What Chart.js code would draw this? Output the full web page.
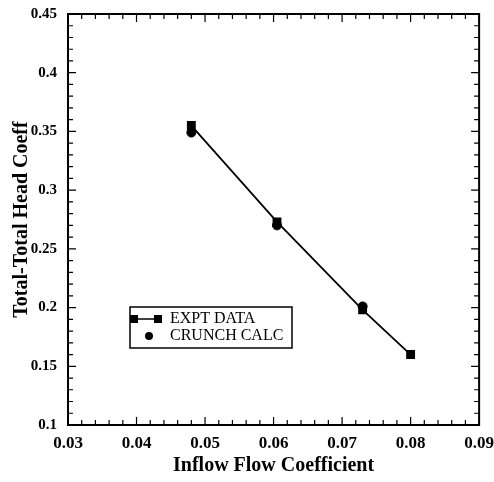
<!DOCTYPE html>
<html>
<head>
<meta charset="utf-8">
<script src="https://cdn.jsdelivr.net/npm/chart.js@4.4.0/dist/chart.umd.min.js"></script>
<style>
  html, body { margin: 0; padding: 0; background: #fff; }
  #wrap { width: 494px; height: 482px; }
</style>
</head>
<body>
<div id="wrap"><canvas id="headChart" width="494" height="482"></canvas></div>
<script>
// 실험 데이터 (EXPT DATA)
const exptFlow = [0.048, 0.0605, 0.073, 0.080];
const exptHead = [0.355, 0.273, 0.198, 0.160];

// 계산 결과 (CRUNCH CALC)
const calcFlow = [0.048, 0.0605, 0.073];
const calcHead = [0.349, 0.270, 0.201];

// 축 눈금
const xTicks = [0.03, 0.04, 0.05, 0.06, 0.07, 0.08, 0.09];
const yTicks = [0.1, 0.15, 0.2, 0.25, 0.3, 0.35, 0.4, 0.45];

const serif = '"Liberation Serif", "Times New Roman", serif';

function fmt(v) {
    return String(Number(v.toFixed(3)));
}

// 안쪽으로 향하는 눈금 + 네 면 테두리
const frameTicks = {
    id: 'frameTicks',
    afterDatasetsDraw(chart) {
        const { ctx, chartArea: a, scales: { x, y } } = chart;
        ctx.save();
        ctx.strokeStyle = '#000';
        ctx.lineWidth = 1.2;
        ctx.beginPath();
        // x 방향 눈금 (0.002 간격)
        for (let i = 0; i <= 30; i++) {
            const v = 0.03 + i * 0.002;
            const px = x.getPixelForValue(v);
            const len = i % 5 === 0 ? 8 : 5;
            ctx.moveTo(px, a.bottom); ctx.lineTo(px, a.bottom - len);
            ctx.moveTo(px, a.top); ctx.lineTo(px, a.top + len);
        }
        // y 방향 눈금 (0.01 간격)
        for (let i = 0; i <= 35; i++) {
            const v = 0.1 + i * 0.01;
            const py = y.getPixelForValue(v);
            const len = i % 5 === 0 ? 8 : 5;
            ctx.moveTo(a.left, py); ctx.lineTo(a.left + len, py);
            ctx.moveTo(a.right, py); ctx.lineTo(a.right - len, py);
        }
        ctx.stroke();
        ctx.lineWidth = 2;
        ctx.strokeRect(a.left, a.top, a.right - a.left, a.bottom - a.top);
        ctx.restore();
    }
};

// 그래프 안쪽 범례 상자
const boxLegend = {
    id: 'boxLegend',
    afterDraw(chart) {
        const { ctx, chartArea: a } = chart;
        const bx = a.left + 62, by = a.top + 293, bw = 162, bh = 41;
        ctx.save();
        ctx.fillStyle = '#fff';
        ctx.fillRect(bx, by, bw, bh);
        ctx.strokeStyle = '#000';
        ctx.lineWidth = 1.5;
        ctx.strokeRect(bx, by, bw, bh);

        ctx.fillStyle = '#000';
        ctx.font = '16px ' + serif;
        ctx.textBaseline = 'middle';
        const ds = chart.data.datasets;

        // EXPT DATA
        const y1 = by + 12;
        ctx.lineWidth = 1.5;
        ctx.beginPath(); ctx.moveTo(bx + 4, y1); ctx.lineTo(bx + 28, y1); ctx.stroke();
        ctx.fillRect(bx, y1 - 4, 8, 8);
        ctx.fillRect(bx + 24, y1 - 4, 8, 8);
        ctx.fillText(ds[0].label, bx + 40, y1);

        // CRUNCH CALC
        const y2 = by + 29;
        ctx.beginPath(); ctx.arc(bx + 19, y2, 4, 0, Math.PI * 2); ctx.fill();
        ctx.fillText(ds[1].label, bx + 40, y2);
        ctx.restore();
    }
};

const ctx = document.getElementById('headChart').getContext('2d');

new Chart(ctx, {
    type: 'scatter',
    data: {
        datasets: [
            {
                label: 'EXPT DATA',
                data: exptFlow.map((f, i) => ({ x: f, y: exptHead[i] })),
                showLine: true,
                borderColor: '#000',
                backgroundColor: '#000',
                borderWidth: 1.8,
                pointStyle: 'rect',
                pointRadius: 5,
                tension: 0
            },
            {
                label: 'CRUNCH CALC',
                data: calcFlow.map((f, i) => ({ x: f, y: calcHead[i] })),
                showLine: false,
                borderColor: '#000',
                backgroundColor: '#000',
                pointStyle: 'circle',
                pointRadius: 4.5
            }
        ]
    },
    options: {
        responsive: false,
        animation: false,
        layout: { padding: { top: 14, right: 13, left: 0, bottom: 0 } },
        plugins: {
            legend: { display: false },
            tooltip: { enabled: false }
        },
        scales: {
            x: {
                type: 'linear',
                min: 0.03,
                max: 0.09,
                afterBuildTicks: s => { s.ticks = xTicks.map(v => ({ value: v })); },
                afterFit: s => { s.height = 57; },
                grid: { display: false },
                border: { display: false },
                ticks: {
                    color: '#000',
                    padding: 0,
                    maxRotation: 0,
                    font: { family: serif, size: 17, weight: 'bold' },
                    callback: v => fmt(v)
                },
                title: {
                    display: true,
                    text: 'Inflow Flow Coefficient',
                    color: '#000',
                    padding: { top: 14 },
                    font: { family: serif, size: 20, weight: 'bold' }
                }
            },
            y: {
                type: 'linear',
                min: 0.1,
                max: 0.45,
                afterBuildTicks: s => { s.ticks = yTicks.map(v => ({ value: v })); },
                afterFit: s => { s.width = 68; },
                grid: { display: false },
                border: { display: false },
                ticks: {
                    color: '#000',
                    padding: 3,
                    font: { family: serif, size: 15, weight: 'bold' },
                    callback: v => fmt(v)
                },
                title: {
                    display: true,
                    text: 'Total-Total Head Coeff',
                    color: '#000',
                    padding: { top: 10, bottom: 0 },
                    font: { family: serif, size: 20, weight: 'bold' }
                }
            }
        }
    },
    plugins: [frameTicks, boxLegend]
});
</script>
</body>
</html>
